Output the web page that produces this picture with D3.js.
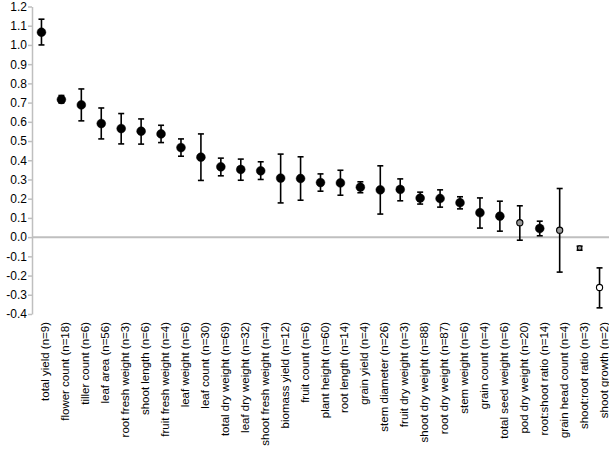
<!DOCTYPE html>
<html><head><meta charset="utf-8">
<script src="https://cdn.jsdelivr.net/npm/d3@7"></script>
<style>body{margin:0;background:#fff}svg{display:block}text{font-family:"Liberation Sans",Arial,Helvetica,sans-serif}</style>
</head><body><svg id="c" width="609" height="465"></svg>
<script>
const categories = ["total yield (n=9)","flower count (n=18)","tiller count (n=6)","leaf area (n=56)","root fresh weight (n=3)","shoot length (n=6)","fruit fresh weight (n=4)","leaf weight (n=6)","leaf count (n=30)","total dry weight (n=69)","leaf dry weight (n=32)","shoot fresh weight (n=4)","biomass yield (n=12)","fruit count (n=6)","plant height (n=60)","root length (n=14)","grain yield (n=4)","stem diameter (n=26)","fruit dry weight (n=3)","shoot dry weight (n=88)","root dry weight (n=87)","stem weight (n=6)","grain count (n=4)","total seed weight (n=6)","pod dry weight (n=20)","root:shoot ratio (n=14)","grain head count (n=4)","shoot:root ratio (n=3)","shoot growth (n=2)"];
const means = [1.066,0.716,0.688,0.591,0.565,0.551,0.537,0.466,0.416,0.366,0.352,0.345,0.307,0.305,0.284,0.282,0.26,0.246,0.248,0.203,0.201,0.179,0.127,0.109,0.075,0.045,0.036,-0.057,-0.262];
const upper = [1.134,0.737,0.771,0.672,0.643,0.615,0.582,0.511,0.537,0.411,0.406,0.392,0.432,0.418,0.329,0.348,0.288,0.371,0.303,0.234,0.246,0.21,0.204,0.187,0.163,0.083,0.253,-0.047,-0.16];
const lower = [1.0,0.698,0.605,0.511,0.485,0.484,0.492,0.421,0.295,0.319,0.296,0.3,0.178,0.192,0.239,0.218,0.231,0.12,0.189,0.172,0.156,0.147,0.047,0.031,-0.016,0.007,-0.182,-0.068,-0.368];
const markerType = ["b","b","b","b","b","b","b","b","b","b","b","b","b","b","b","b","b","b","b","b","b","b","b","b","g","b","g","g","w"];
const yTicks = [-0.4,-0.3,-0.2,-0.1,0,0.1,0.2,0.3,0.4,0.5,0.6,0.7,0.8,0.9,1.0,1.1,1.2];

const svg = d3.select("#c");
const x = d3.scaleBand().domain(categories).range([31.5, 609.5]);
const y = d3.scaleLinear().domain([-0.4, 1.2]).range([314, 6.5]);
const cx = d => x(d) + x.bandwidth()/2;

// zero line
svg.append("line").attr("x1", 32).attr("x2", 609).attr("y1", y(0)).attr("y2", y(0))
  .attr("stroke", "#bfbfbf").attr("stroke-width", 2);

// y axis
const ax = svg.append("g").attr("transform", "translate(32,0)")
  .call(d3.axisLeft(y).tickValues(yTicks).tickSize(4).tickSizeOuter(0)
    .tickFormat(v => d3.format(".1f")(v).replace("\u2212", "-")));
ax.select(".domain").attr("stroke", "#bfbfbf").attr("stroke-width", 1.5);
ax.selectAll(".tick line").attr("stroke", "#bfbfbf").attr("stroke-width", 1.5);
ax.selectAll(".tick text").attr("font-size", 12).attr("fill", "#000").attr("x", -5)
  .attr("font-family", "'Liberation Sans',Arial,sans-serif");

// error bars
const g = svg.append("g");
categories.forEach((c, i) => {
  const xc = cx(c);
  const eb = g.append("g").attr("stroke", "#000").attr("stroke-width", 1.6);
  eb.append("line").attr("x1", xc).attr("x2", xc).attr("y1", y(upper[i])).attr("y2", y(lower[i]));
  eb.append("line").attr("x1", xc-3).attr("x2", xc+3).attr("y1", y(upper[i])).attr("y2", y(upper[i]));
  eb.append("line").attr("x1", xc-3).attr("x2", xc+3).attr("y1", y(lower[i])).attr("y2", y(lower[i]));
  const t = markerType[i];
  g.append("circle").attr("cx", xc).attr("cy", y(means[i]))
    .attr("r", t === "b" ? 4.4 : (i === 27 ? 2.3 : 3.1))
    .attr("fill", t === "b" ? "#000" : (t === "g" ? "#999" : "#fff"))
    .attr("stroke", "#000").attr("stroke-width", t === "b" ? 0.5 : 1.1);
});

// category labels
svg.append("g").selectAll("text").data(categories).join("text")
  .attr("transform", d => `translate(${cx(d)+4},322) rotate(-90)`)
  .attr("text-anchor", "end").attr("dy", "0.35em")
  .attr("font-size", 11.5).attr("fill", "#000").text(d => d);
</script></body></html>
